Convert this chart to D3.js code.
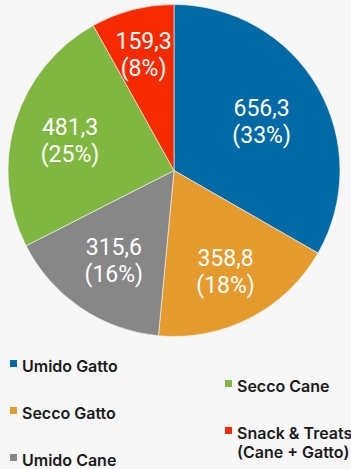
<!DOCTYPE html>
<html>
<head>
<meta charset="utf-8">
<script src="https://cdn.jsdelivr.net/npm/d3@7/dist/d3.min.js"></script>
<style>
  html, body { margin: 0; padding: 0; background: #f7f7f7; }
  svg { display: block; }
</style>
</head>
<body>
<svg id="chart" width="351" height="469"></svg>
<script>
// Pet food market segments (values and shares)
const categories = ["Umido Gatto", "Secco Gatto", "Umido Cane", "Secco Cane", "Snack & Treats (Cane + Gatto)"];
const values = [656.3, 358.8, 315.6, 481.3, 159.3];
const percents = ["33%", "18%", "16%", "25%", "8%"];
const colors = ["#0069a6", "#e59a2e", "#878787", "#80b741", "#f52a00"];

const svg = d3.select("#chart");
const cx = 174, cy = 170.5, radius = 166;

// how far out (fraction of the radius) each slice's value label sits
const labelRadiusFrac = [0.61, 0.675, 0.645, 0.655, 0.73];

const data = categories.map((c, i) => ({ name: c, value: values[i], pct: percents[i], color: colors[i], lr: labelRadiusFrac[i] }));

const pie = d3.pie().sort(null).value(d => d.value);
const arc = d3.arc().innerRadius(0).outerRadius(radius);

const g = svg.append("g").attr("transform", `translate(${cx},${cy})`);
const arcs = pie(data);

g.selectAll("path")
  .data(arcs)
  .join("path")
  .attr("d", arc)
  .attr("fill", d => d.data.color)
  .attr("stroke", "#f7f7f7")
  .attr("stroke-width", 0.6);

const fmt = v => v.toFixed(1).replace(".", ",");

const labels = g.selectAll("text.val")
  .data(arcs)
  .join("text")
  .attr("class", "val")
  .attr("transform", d => {
    const r = radius * d.data.lr;
    return `translate(${d3.arc().innerRadius(r).outerRadius(r).centroid(d)})`;
  })
  .attr("text-anchor", "middle")
  .attr("fill", "#ffffff")
  .style("font-family", "Roboto, 'Noto Sans', sans-serif")
  .style("font-size", "23px");

labels.append("tspan").attr("x", 0).attr("y", -4).text(d => fmt(d.data.value));
labels.append("tspan").attr("x", 0).attr("y", 23).text(d => `(${d.data.pct})`);

// Legend in two staggered columns
const legendPos = [
  { x: 10, y: 372 },
  { x: 10, y: 419 },
  { x: 10, y: 466 },
  { x: 225, y: 392 },
  { x: 225, y: 439 }
];
const legendLines = [
  ["Umido Gatto"],
  ["Secco Gatto"],
  ["Umido Cane"],
  ["Secco Cane"],
  ["Snack & Treats", "(Cane + Gatto)"]
];

const leg = svg.append("g")
  .selectAll("g")
  .data(data)
  .join("g")
  .attr("transform", (d, i) => `translate(${legendPos[i].x},${legendPos[i].y})`);

leg.append("rect")
  .attr("x", 0).attr("y", -12)
  .attr("width", 7).attr("height", 7)
  .attr("fill", d => d.color);

leg.append("text")
  .attr("x", 12)
  .style("font-family", "Inter, Roboto, 'Noto Sans', sans-serif")
  .style("font-size", "16px")
  .style("font-weight", 600)
  .attr("fill", "#1a1a1a")
  .selectAll("tspan")
  .data((d, i) => legendLines[i])
  .join("tspan")
  .attr("x", 12)
  .attr("y", (t, j) => j * 18.5)
  .text(t => t);
</script>
</body>
</html>
